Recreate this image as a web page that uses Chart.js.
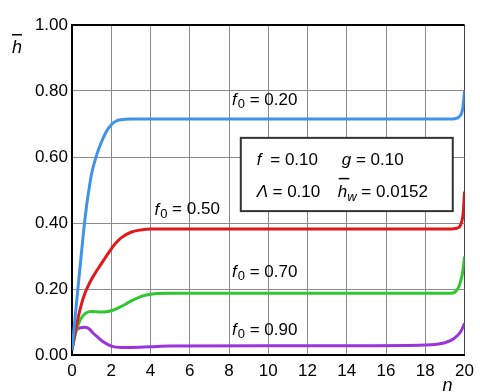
<!DOCTYPE html>
<html>
<head>
<meta charset="utf-8">
<script src="https://cdn.jsdelivr.net/npm/chart.js@4.4.0/dist/chart.umd.min.js"></script>
<style>
  html, body { margin: 0; padding: 0; background: #fff; }
  #wrap { width: 480px; height: 392px; }
</style>
</head>
<body>
<div id="wrap"><canvas id="chart" width="480" height="392"></canvas></div>
<script>
// dados (n, h barra)
const xTicks = [0, 2, 4, 6, 8, 10, 12, 14, 16, 18, 20];
const yTicks = ['0.00', '0.20', '0.40', '0.60', '0.80', '1.00'];

const nF020 = [0, 0.25, 0.5, 0.6, 0.75, 0.9, 1.0, 1.25, 1.5, 1.75, 2.0, 2.25, 2.5, 3, 5, 10, 15, 19.3, 19.5, 19.73, 19.9, 20];
const hF020 = [0.015, 0.17, 0.32, 0.38, 0.455, 0.515, 0.55, 0.605, 0.645, 0.677, 0.698, 0.709, 0.713, 0.715, 0.715, 0.715, 0.715, 0.715, 0.716, 0.722, 0.745, 0.80];

const nF050 = [0, 0.15, 0.32, 0.5, 0.66, 0.91, 1.15, 1.42, 1.7, 1.92, 2.2, 2.5, 3, 3.5, 4, 6, 10, 15, 19.3, 19.6, 19.8, 19.93, 20];
const hF050 = [0.015, 0.065, 0.115, 0.158, 0.187, 0.22, 0.245, 0.27, 0.295, 0.315, 0.337, 0.355, 0.372, 0.379, 0.382, 0.382, 0.382, 0.382, 0.382, 0.384, 0.395, 0.43, 0.495];

const nF070 = [0, 0.2, 0.41, 0.7, 1.0, 1.5, 2.0, 2.5, 3.0, 3.5, 4.0, 5, 10, 15, 19.3, 19.5, 19.77, 19.93, 20];
const hF070 = [0.015, 0.07, 0.106, 0.127, 0.132, 0.130, 0.134, 0.147, 0.163, 0.177, 0.184, 0.187, 0.187, 0.187, 0.187, 0.19, 0.217, 0.26, 0.298];

const nF090 = [0, 0.15, 0.4, 0.66, 0.85, 1.08, 1.35, 1.59, 2.0, 2.5, 3, 4, 5, 10, 15, 18, 19, 19.47, 19.81, 20];
const hF090 = [0.015, 0.068, 0.082, 0.084, 0.08, 0.066, 0.052, 0.04, 0.027, 0.023, 0.023, 0.025, 0.027, 0.028, 0.028, 0.03, 0.037, 0.05, 0.071, 0.096];

const toPts = (xs, ys) => xs.map((x, i) => ({ x: x, y: ys[i] }));

const FONT = '"Liberation Sans", Arial, sans-serif';

// rótulos das curvas (posição em coordenadas dos dados)
const curveLabels = [
  { n: 8.15, h: 0.773, text: '0.20' },
  { n: 4.2, h: 0.44, text: '0.50' },
  { n: 8.15, h: 0.252, text: '0.70' },
  { n: 8.15, h: 0.076, text: '0.90' },
];

function drawF0(ctx, x, y, value) {
  ctx.textBaseline = 'middle';
  ctx.textAlign = 'left';
  ctx.font = 'italic 17px ' + FONT;
  ctx.fillText('f', x, y);
  x += ctx.measureText('f').width + 1;
  ctx.font = '13px ' + FONT;
  ctx.fillText('0', x, y + 5);
  x += ctx.measureText('0').width;
  ctx.font = '17px ' + FONT;
  ctx.fillText(' = ' + value, x, y);
}

const annotations = {
  id: 'annotations',
  afterDraw(chart) {
    const ctx = chart.ctx;
    const xs = chart.scales.x;
    const ys = chart.scales.y;
    const area = chart.chartArea;
    ctx.save();
    ctx.fillStyle = '#000';

    curveLabels.forEach(l => drawF0(ctx, xs.getPixelForValue(l.n), ys.getPixelForValue(l.h), l.text));

    // caixa de parâmetros
    const bx = xs.getPixelForValue(8.6);
    const bx2 = xs.getPixelForValue(19.4);
    const by = ys.getPixelForValue(0.658);
    const by2 = ys.getPixelForValue(0.436);
    ctx.fillStyle = '#fff';
    ctx.fillRect(bx, by, bx2 - bx, by2 - by);
    ctx.strokeStyle = '#333';
    ctx.lineWidth = 2;
    ctx.strokeRect(bx, by, bx2 - bx, by2 - by);

    ctx.fillStyle = '#000';
    ctx.textBaseline = 'middle';
    ctx.textAlign = 'left';
    let y1 = by + 22;
    let y2 = by + 54;
    let x = bx + 16;
    ctx.font = 'italic 17px ' + FONT;
    ctx.fillText('f', x, y1);
    ctx.font = '17px ' + FONT;
    ctx.fillText('  = 0.10', x + 4, y1);
    x = bx + 101;
    ctx.font = 'italic 17px ' + FONT;
    ctx.fillText('g', x, y1);
    ctx.font = '17px ' + FONT;
    ctx.fillText(' = 0.10', x + ctx.measureText('g').width, y1);

    x = bx + 16;
    ctx.font = 'italic 17px ' + FONT;
    ctx.fillText('Λ', x, y2);
    ctx.font = '17px ' + FONT;
    ctx.fillText(' = 0.10', x + 11, y2);
    x = bx + 97;
    ctx.font = 'italic 17px ' + FONT;
    ctx.fillText('h', x, y2);
    const hw = ctx.measureText('h').width;
    ctx.fillRect(x + 1, y2 - 14, hw + 1, 1.5);
    ctx.font = 'italic 13px ' + FONT;
    ctx.fillText('w', x + hw, y2 + 6);
    const ww = ctx.measureText('w').width;
    ctx.font = '17px ' + FONT;
    ctx.fillText(' = 0.0152', x + hw + ww, y2);

    // títulos dos eixos
    ctx.font = 'italic 18px ' + FONT;
    ctx.fillText('h', 12, 48);
    ctx.fillRect(12, 34, 10, 1.5);
    ctx.fillText('n', area.right - 22, 386);

    ctx.restore();
  }
};

const ctx = document.getElementById('chart').getContext('2d');
new Chart(ctx, {
  type: 'line',
  data: {
    datasets: [
      { label: 'f0 = 0.20', data: toPts(nF020, hF020), borderColor: '#3f93ea' },
      { label: 'f0 = 0.50', data: toPts(nF050, hF050), borderColor: '#e0191b' },
      { label: 'f0 = 0.70', data: toPts(nF070, hF070), borderColor: '#2fc72f' },
      { label: 'f0 = 0.90', data: toPts(nF090, hF090), borderColor: '#9a34dc' },
    ].map(d => Object.assign(d, {
      borderWidth: 3,
      pointRadius: 0,
      fill: false,
      cubicInterpolationMode: 'monotone',
    })),
  },
  options: {
    responsive: false,
    animation: false,
    layout: { padding: { top: 25, right: 13, left: 0, bottom: 0 } },
    plugins: {
      legend: { display: false },
      tooltip: { enabled: false },
    },
    scales: {
      x: {
        type: 'linear',
        min: 0,
        max: 20,
        afterBuildTicks: s => { s.ticks = xTicks.map(v => ({ value: v })); },
        afterFit: s => { s.height = 37; },
        ticks: { color: '#000', font: { size: 17, family: FONT }, padding: 6, maxRotation: 0 },
        grid: {
          drawTicks: false,
          color: c => (c.tick && c.tick.value === 20 ? '#444' : '#8a8a8a'),
          lineWidth: 1,
        },
        border: { color: '#000', width: 2 },
      },
      y: {
        type: 'linear',
        min: 0,
        max: 1,
        afterBuildTicks: s => { s.ticks = yTicks.map(v => ({ value: parseFloat(v) })); },
        afterFit: s => { s.width = 72; },
        ticks: {
          color: '#000',
          font: { size: 17, family: FONT },
          padding: 4,
          callback: (v, i) => yTicks[i],
        },
        grid: {
          drawTicks: false,
          color: c => (c.tick && c.tick.value === 1 ? '#000' : '#8a8a8a'),
          lineWidth: c => (c.tick && c.tick.value === 1 ? 2 : 1),
        },
        border: { color: '#000', width: 2 },
      },
    },
  },
  plugins: [annotations],
});
</script>
</body>
</html>
